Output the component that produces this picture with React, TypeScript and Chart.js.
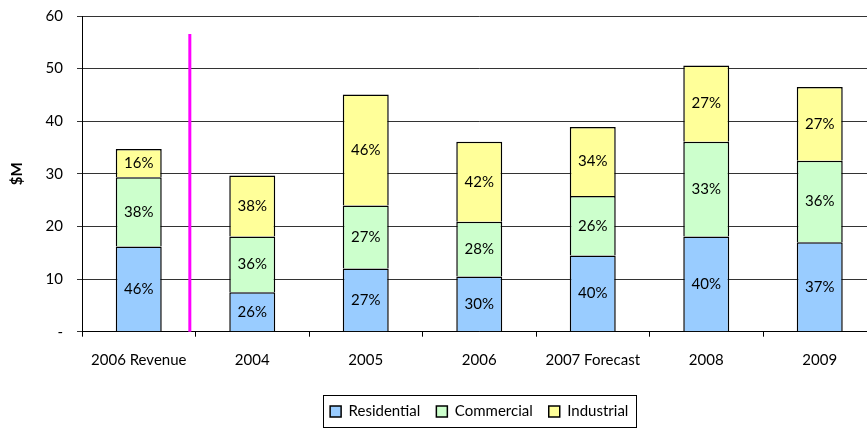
import React, { useEffect, useRef } from 'react';
import { Chart, registerables } from 'chart.js';

Chart.register(...registerables);

const categories = ['2006 Revenue', '2004', '2005', '2006', '2007 Forecast', '2008', '2009'];
const residential = [16.2, 7.5, 12.0, 10.5, 14.5, 18.1, 17.0];
const commercial = [13.15, 10.6, 12.0, 10.4, 11.3, 18.0, 15.5];
const industrial = [5.35, 11.6, 21.1, 15.2, 13.1, 14.5, 14.0];
const residentialPct = ['46%', '26%', '27%', '30%', '40%', '40%', '37%'];
const commercialPct = ['38%', '36%', '27%', '28%', '26%', '33%', '36%'];
const industrialPct = ['16%', '38%', '46%', '42%', '34%', '27%', '27%'];
const yTicks = [0, 10, 20, 30, 40, 50, 60];
const dividerAt = 0.45; // position in category units, between the first and second category
const dividerTop = 56.6;

const FONT = 'Lato, "DejaVu Sans", sans-serif';

export default function App() {
  const ref = useRef<HTMLCanvasElement | null>(null);

  useEffect(() => {
    const canvas = ref.current;
    if (!canvas) return;
    const pctLabels = [residentialPct, commercialPct, industrialPct];

    const segLabels = {
      id: 'segLabels',
      afterDatasetsDraw(chart: any) {
        const ctx = chart.ctx;
        ctx.save();
        ctx.font = `15px ${FONT}`;
        ctx.fillStyle = '#000';
        ctx.textAlign = 'center';
        ctx.textBaseline = 'middle';
        chart.data.datasets.forEach((_: any, i: number) => {
          const meta = chart.getDatasetMeta(i);
          meta.data.forEach((bar: any, j: number) => {
            const p = bar.getProps(['x', 'y', 'base'], true);
            ctx.fillText(pctLabels[i][j], p.x, (p.y + p.base) / 2);
          });
        });
        ctx.restore();
      },
    };

    const divider = {
      id: 'divider',
      afterDatasetsDraw(chart: any) {
        const xs = chart.scales.x;
        const ys = chart.scales.y;
        const x0 = xs.getPixelForValue(0);
        const x1 = xs.getPixelForValue(1);
        const x = x0 + (x1 - x0) * dividerAt;
        const ctx = chart.ctx;
        ctx.save();
        ctx.strokeStyle = '#FF00FF';
        ctx.lineWidth = 3;
        ctx.beginPath();
        ctx.moveTo(x, ys.getPixelForValue(0));
        ctx.lineTo(x, ys.getPixelForValue(dividerTop));
        ctx.stroke();
        ctx.restore();
      },
    };

    const legendBorder = {
      id: 'legendBorder',
      afterDraw(chart: any) {
        const hb = chart.legend && chart.legend.legendHitBoxes;
        if (!hb || !hb.length) return;
        const first = hb[0];
        const last = hb[hb.length - 1];
        const left = first.left - 7.5;
        const right = last.left + last.width + 7;
        const top = first.top - 9;
        const bottom = first.top + first.height + 8;
        const ctx = chart.ctx;
        ctx.save();
        ctx.strokeStyle = '#000';
        ctx.lineWidth = 1;
        ctx.strokeRect(Math.round(left) + 0.5, Math.round(top) + 0.5, Math.round(right - left), Math.round(bottom - top));
        ctx.restore();
      },
    };

    const chart = new Chart(canvas, {
      type: 'bar',
      data: {
        labels: categories,
        datasets: [
          { label: 'Residential', data: residential, backgroundColor: '#99CCFF', borderColor: '#000', borderWidth: 1.5 },
          { label: 'Commercial', data: commercial, backgroundColor: '#CCFFCC', borderColor: '#000', borderWidth: 1.5 },
          { label: 'Industrial', data: industrial, backgroundColor: '#FFFF99', borderColor: '#000', borderWidth: 1.5 },
        ],
      },
      options: {
        animation: false,
        responsive: false,
        devicePixelRatio: 1,
        font: { family: FONT, size: 15 },
        layout: { padding: { left: 0, right: 3.5, top: 16, bottom: 0 } },
        datasets: { bar: { barPercentage: 0.405, categoryPercentage: 1 } },
        plugins: {
          tooltip: { enabled: false },
          legend: {
            position: 'bottom',
            fullSize: false,
            labels: { boxWidth: 11, boxHeight: 11, padding: 16, color: '#000', font: { family: FONT, size: 15 } },
          },
        },
        scales: {
          x: {
            stacked: true,
            grid: { display: true, drawOnChartArea: false, drawTicks: true, tickLength: 5, offset: true, color: '#000' },
            border: { display: true, color: '#000', width: 1 },
            ticks: { color: '#000', padding: 14, maxRotation: 0, autoSkip: false, font: { family: FONT, size: 15 } },
            afterFit: (s: any) => { s.height = 56.3; s.paddingLeft = 0; s.paddingRight = 0; },
          },
          y: {
            stacked: true,
            min: 0,
            max: 60,
            afterBuildTicks: (s: any) => { s.ticks = yTicks.map((v) => ({ value: v })); },
            grid: { color: '#333', tickLength: 5, drawTicks: true },
            border: { display: true, color: '#000', width: 1 },
            ticks: {
              color: '#000',
              padding: 14,
              font: { family: FONT, size: 15 },
              callback: (v: any) => (Number(v) === 0 ? '-' : String(v)),
            },
            title: { display: true, text: '$M', color: '#000', font: { family: FONT, size: 15, weight: 'bold' }, padding: { top: 8, bottom: 0 } },
            afterFit: (s: any) => { s.width = 82; s.paddingTop = 0; s.paddingBottom = 0; },
          },
        },
      },
      plugins: [segLabels, divider, legendBorder],
    } as any);
    return () => chart.destroy();
  }, []);

  return (
    <div style={{ position: 'fixed', left: 0, top: 0, width: 867, height: 429, overflow: 'hidden', background: '#fff' }}>
      <canvas ref={ref} width={880} height={429} style={{ display: 'block', width: 880, height: 429 }} />
    </div>
  );
}
